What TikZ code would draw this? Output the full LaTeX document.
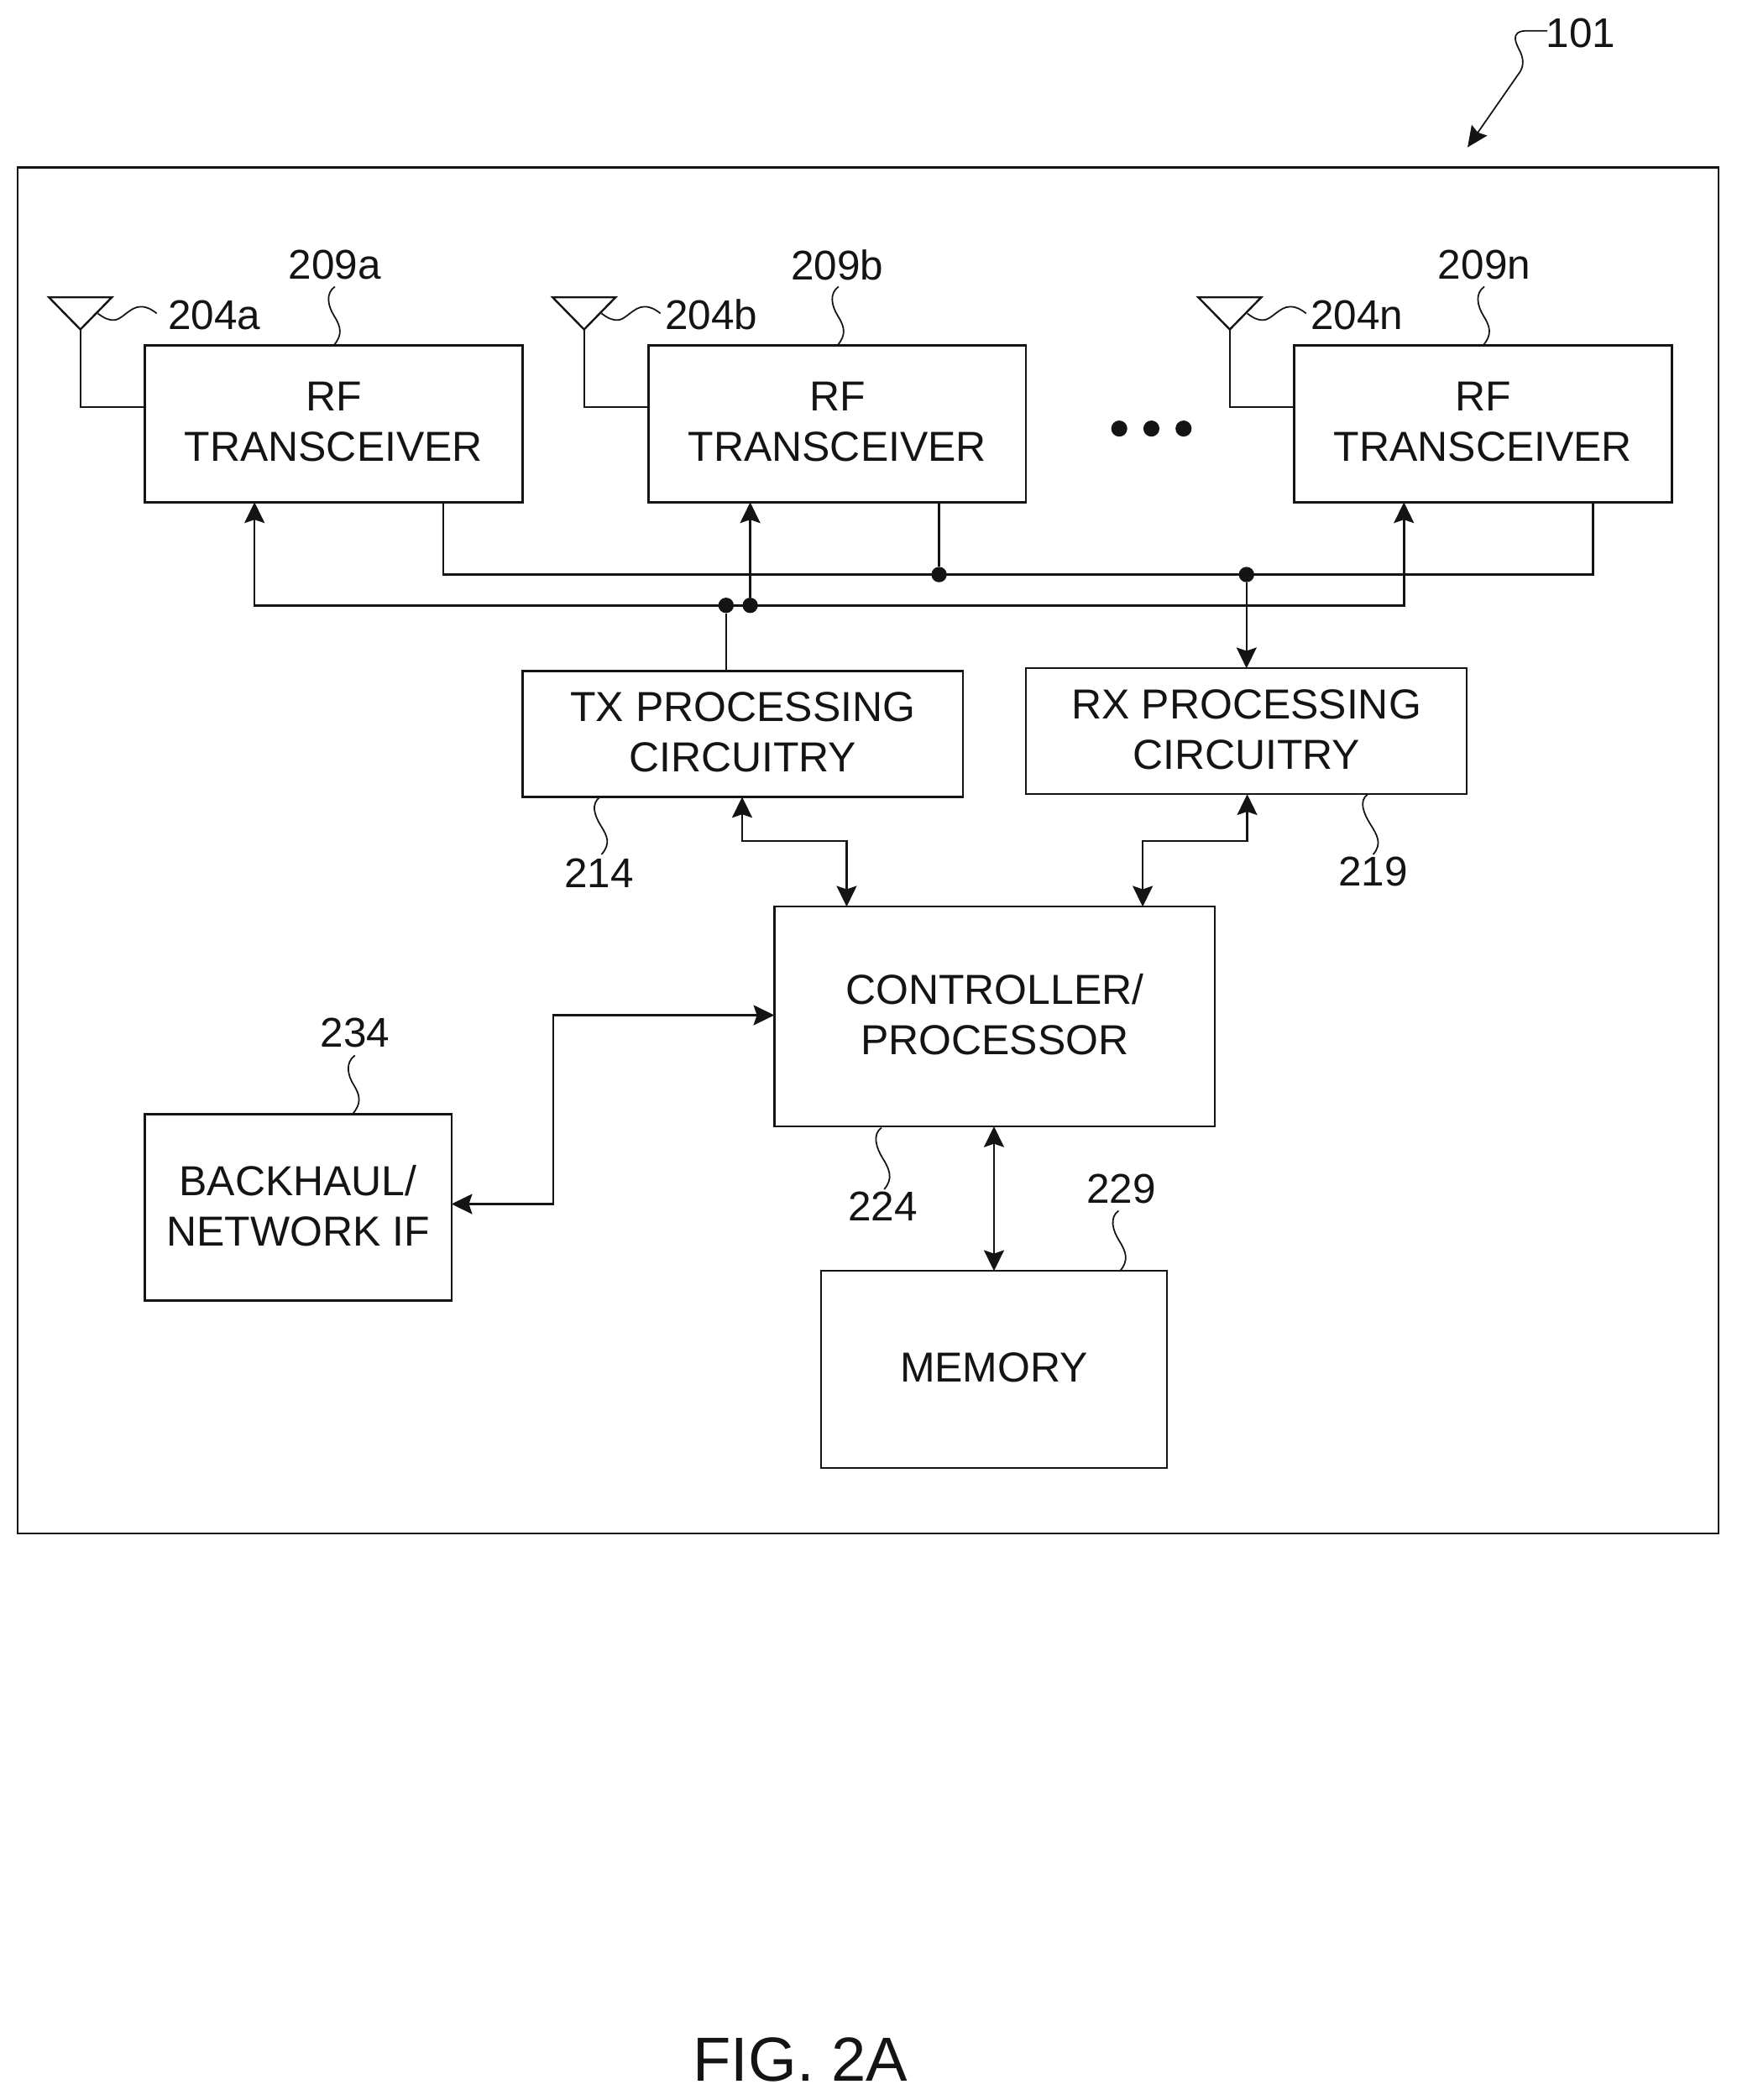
\documentclass[tikz,border=0pt]{standalone}
\usepackage{fontspec}
\setmainfont{Liberation Sans}
\usetikzlibrary{arrows.meta,calc}
\definecolor{ink}{HTML}{141414}
\tikzset{
  blockbox/.style={draw=ink,line width=1.5pt,inner sep=0pt,outer sep=0pt,align=center,text=ink,
    font=\fontsize{31.3}{37.5}\selectfont},
  reflabel/.style={inner sep=0pt,text=ink,font=\fontsize{31}{36}\selectfont},
  wire/.style={draw=ink,line width=1.6pt,line join=miter},
  oneway/.style={wire,-{Stealth[length=15.5pt,width=15pt,inset=2.5pt]}},
  twoway/.style={wire,{Stealth[length=15.5pt,width=15pt,inset=2.5pt]}-{Stealth[length=15.5pt,width=15pt,inset=2.5pt]}},
  leader/.style={draw=ink,line width=1.1pt},
  junction/.style={circle,fill=ink,inner sep=0pt,minimum size=11.5pt},
  trail/.style={circle,fill=ink,inner sep=0pt,minimum size=12pt},
  aerial/.style={draw=ink,line width=1.5pt,line join=miter}
}
\newcommand\lift{\rule[-3pt]{0pt}{3pt}}
\newcommand\sleader[2]{\draw[leader] (#1) .. controls +(-7,5) and +(-5,-8) .. ($(#1)!0.5!(#2)$) .. controls +(5,8) and +(7,-8) .. (#2);}
\newcommand\squig[1]{\draw[leader] (#1) .. controls +(4,3) and +(-5,0) .. ++(12,5) .. controls +(6,0) and +(-8,0) .. ++(20,-10) .. controls +(5,0) and +(-4,-3) .. ++(12,5);}
\newcommand\aerialat[3]{% apex coordinate, box, stem y
  \draw[aerial] (#1) -- ++(-23.5,-24) -- ++(47,0) -- cycle;
  \draw[aerial] (#1) -- (#1 |- 0,304) -- (#2.west |- 0,304);}
\begin{document}
\begin{tikzpicture}[x=1pt,y=-1pt]
\useasboundingbox (0,0) rectangle (1296.6,1568);
% outer frame
\node[draw=ink,line width=1.5pt,inner sep=0pt,outer sep=0pt,minimum width=1270pt,minimum height=1020pt] (frame) at (648,635) {};
% blocks
\node[blockbox,minimum width=282pt,minimum height=117pt] (rfa) at (249,316.5) {RF\\TRANSCEIVER\lift};
\node[blockbox,minimum width=282pt,minimum height=117pt] (rfb) at (625,316.5) {RF\\TRANSCEIVER\lift};
\node[blockbox,minimum width=282pt,minimum height=117pt] (rfn) at (1107,316.5) {RF\\TRANSCEIVER\lift};
\node[blockbox,minimum width=329pt,minimum height=94pt] (tx) at (554.5,548) {TX PROCESSING\\CIRCUITRY\lift};
\node[blockbox,minimum width=329pt,minimum height=94pt] (rx) at (930.5,546) {RX PROCESSING\\CIRCUITRY\lift};
\node[blockbox,minimum width=329pt,minimum height=164pt] (ctrl) at (742.5,759) {CONTROLLER/\\PROCESSOR\lift};
\node[blockbox,minimum width=229pt,minimum height=139pt] (bh) at (222.5,901.5) {BACKHAUL/\\NETWORK IF\lift};
\node[blockbox,minimum width=258pt,minimum height=147pt] (mem) at (742,1022.5) {MEMORY\lift};
% reference labels
\node[reflabel] (l101) at (1180,25) {101};
\node[reflabel] (l204a) at (160,235) {204a};
\node[reflabel] (l209a) at (250,198) {209a};
\node[reflabel] (l204b) at (531,235) {204b};
\node[reflabel] (l209b) at (625,198) {209b};
\node[reflabel] (l204n) at (1013,235) {204n};
\node[reflabel] (l209n) at (1108,198) {209n};
\node[reflabel] (l214) at (447,652) {214};
\node[reflabel] (l219) at (1025,651) {219};
\node[reflabel] (l224) at (659,901) {224};
\node[reflabel] (l229) at (837,888) {229};
\node[reflabel] (l234) at (265,771) {234};
\node[inner sep=0pt,text=ink,font=\fontsize{46.5}{50}\selectfont] (fig) at (597.5,1538) {FIG. 2A};
% antennas
\coordinate (anta) at (60,246);
\coordinate (antb) at (436,246);
\coordinate (antn) at (918,246);
\aerialat{anta}{rfa}{304}
\aerialat{antb}{rfb}{304}
\aerialat{antn}{rfn}{304}
\coordinate (sa) at (73,234);
\coordinate (sb) at (449,234);
\coordinate (sn) at (931,234);
\squig{sa}\squig{sb}\squig{sn}
% leaders to blocks
\coordinate (t9a) at (250,214);
\coordinate (t9b) at (626,214);
\coordinate (t9n) at (1108,214);
\sleader{t9a}{rfa.north}
\sleader{t9b}{rfb.north}
\sleader{t9n}{rfn.north}
\coordinate (t214a) at (448,595);
\coordinate (t214b) at (449,638);
\sleader{t214a}{t214b}
\coordinate (t219a) at (1021,593);
\coordinate (t219b) at (1025,638);
\sleader{t219a}{t219b}
\coordinate (t224a) at (658,842);
\coordinate (t224b) at (660,888);
\sleader{t224a}{t224b}
\coordinate (t229a) at (835,904);
\coordinate (t229b) at (836,949);
\sleader{t229a}{t229b}
\coordinate (t234a) at (265,788);
\coordinate (t234b) at (263,832);
\sleader{t234a}{t234b}
% arrow with leader for 101
\coordinate (lead101) at (1155,23);
\coordinate (tip101) at (1095.5,110);
\draw[leader,-{Stealth[length=15.5pt,width=14pt,inset=2pt]}] (lead101) -- (1140,23) .. controls (1126,23) and (1132,33) .. (1135,39) .. controls (1138,46) and (1137,51) .. (1133,56) -- (tip101);
% buses
\coordinate (busL) at (331,429);
\coordinate (busR) at (1189,429);
\coordinate (lowL) at (190,452);
\coordinate (lowR) at (1048,452);
\node[junction] (jb) at (701,429) {};
\node[junction] (jrx) at (930.5,429) {};
\node[junction] (jtx) at (542,452) {};
\node[junction] (jrfb) at (560,452) {};
\draw[wire] (busL |- rfa.south) -- (busL) -- (busR) -- (busR |- rfn.south);
\draw[wire] (jb |- rfb.south) -- (jb);
\draw[oneway] (jrx) -- (rx.north);
\draw[twoway] (lowL |- rfa.south) -- (lowL) -- (lowR) -- (lowR |- rfn.south);
\draw[wire] (jtx |- tx.north) -- (jtx);
\draw[oneway] (jrfb) -- (jrfb |- rfb.south);
% processing to controller
\coordinate (c1) at (554,628);
\coordinate (c2) at (632,628);
\coordinate (c3) at (853,628);
\coordinate (c4) at (931,628);
\draw[twoway] (c1 |- tx.south) -- (c1) -- (c2) -- (c2 |- ctrl.north);
\draw[twoway] (c3 |- ctrl.north) -- (c3) -- (c4) -- (c4 |- rx.south);
\coordinate (c5) at (413,758);
\coordinate (c6) at (413,899);
\draw[twoway] (c6 -| bh.east) -- (c6) -- (c5) -- (c5 -| ctrl.west);
\draw[twoway] (mem.north |- ctrl.south) -- (mem.north);
% ellipsis
\node[trail] (e1) at (835.5,320) {};
\node[trail] (e2) at (859.5,320) {};
\node[trail] (e3) at (883.5,320) {};
\end{tikzpicture}
\end{document}
